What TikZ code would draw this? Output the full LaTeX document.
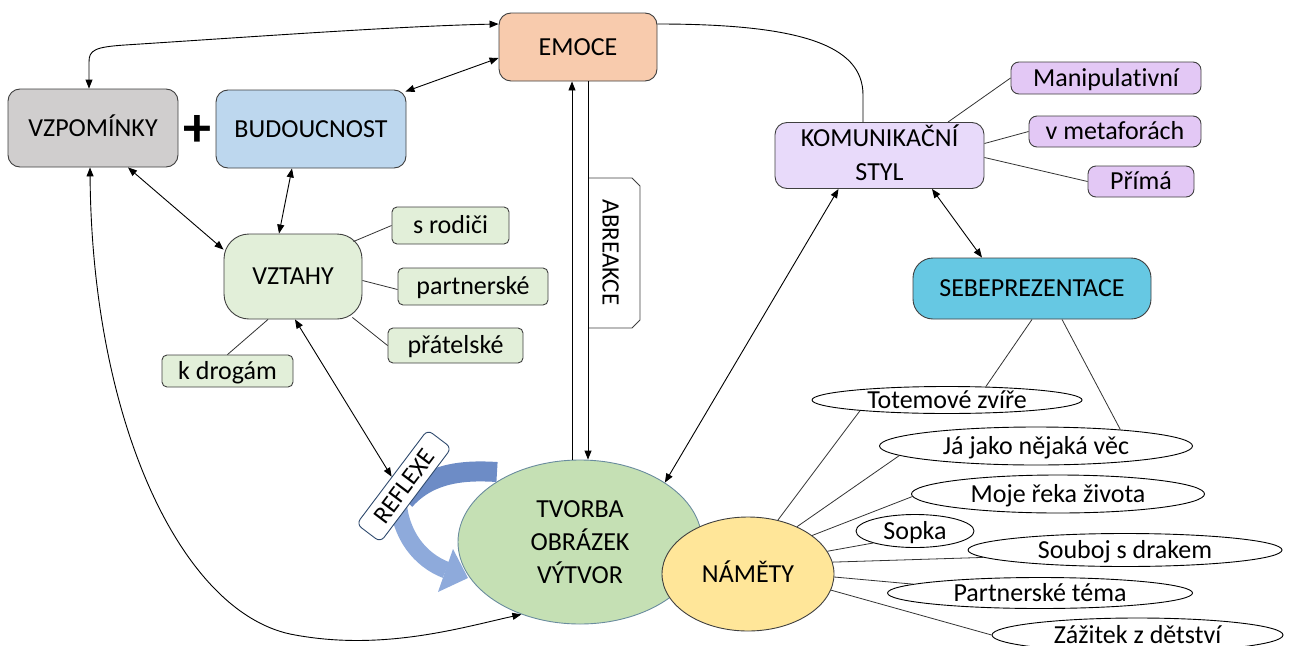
\documentclass[tikz,border=0pt]{standalone}
\usepackage{fontspec}
\setmainfont{Carlito}[Ligatures={NoCommon,NoContextual}]
\usetikzlibrary{arrows.meta,shapes.geometric,calc}
\definecolor{cgray}{HTML}{D0CECE}
\definecolor{cblue}{HTML}{BDD7EE}
\definecolor{cpeach}{HTML}{F8CBAD}
\definecolor{clav}{HTML}{E8DAFA}
\definecolor{cpur}{HTML}{E3C8F5}
\definecolor{ccyan}{HTML}{66C8E3}
\definecolor{cgreen}{HTML}{E2EFD9}
\definecolor{ctvo}{HTML}{C5E0B4}
\definecolor{ctvob}{HTML}{6A8C9E}
\definecolor{cyel}{HTML}{FFE699}
\definecolor{bordc}{HTML}{3F3F3F}
\definecolor{crefb}{HTML}{2F4A6E}
\definecolor{carrA}{HTML}{6D8CC6}
\definecolor{carrB}{HTML}{8EAADB}
\begin{document}
\begin{tikzpicture}[x=1pt,y=-1pt,
  font=\fontsize{26}{31}\selectfont,
  >={Triangle[length=9pt,width=7pt]},
  box/.style={draw=bordc, line width=0.9pt, rounded corners=12pt, inner sep=0pt, text height=16.7pt, text depth=0pt},
  boxm/.style={draw=bordc, line width=0.9pt, rounded corners=12pt, inner sep=0pt, align=center},
  sp/.style={box, rounded corners=8pt, fill=cpur},
  sg/.style={box, rounded corners=5pt, fill=cgreen},
  el/.style={ellipse, draw=black, line width=0.9pt, fill=white, inner sep=0pt, text height=16.7pt, text depth=0pt},
  con/.style={line width=0.9pt, draw=black},
  dbl/.style={con, <->},
  ln/.style={line width=0.8pt, draw=black!80}
]
\useasboundingbox (0,0) rectangle (1289,645);
\clip (0,0) rectangle (1289,645);

% blue circular arrow (drawn below REFLEXE)
\draw[line width=20pt, draw=carrA] (497,472) .. controls (465,470) and (430,472) .. (405,500);
\draw[line width=17pt, draw=carrB] (398,500) .. controls (400,535) and (420,560) .. (446,570);
\fill[carrB] (468,578) -- (453,549) -- (438,592) -- cycle;

% nodes
\node[box, fill=cgray, minimum width=170pt, minimum height=78pt] (vz) at (93,128) {VZPOMÍNKY};
\node[font=\fontsize{56}{60}\selectfont\bfseries, inner sep=0pt] (plus) at (197,131) {+};
\node[box, fill=cblue, minimum width=190pt, minimum height=78pt] (bud) at (311,129) {BUDOUCNOST};
\node[box, fill=cpeach, minimum width=158pt, minimum height=68pt] (emo) at (578,47) {EMOCE};
\node[boxm, fill=clav, minimum width=209pt, minimum height=66pt, font=\fontsize{26}{34}\selectfont] (kom) at (879.5,155.5) {KOMUNIKA\smash{Č}N\smash{Í}\\STYL};
\node[sp, minimum width=190pt, minimum height=32pt] (man) at (1106,78) {Manipulat\kern0pt ivní};
\node[sp, minimum width=172pt, minimum height=31pt] (met) at (1115,131.5) {v metaforách};
\node[sp, minimum width=106pt, minimum height=31pt] (pri) at (1141,181.5) {Přímá};
\node[box, rounded corners=20pt, fill=ccyan, minimum width=238pt, minimum height=61pt] (seb) at (1032,288.5) {SEBEPREZENTACE};
\node[box, rounded corners=25pt, fill=cgreen, minimum width=138pt, minimum height=85pt] (vzt) at (293,276.5) {VZTAHY};
\node[sg, minimum width=117pt, minimum height=37pt] (rod) at (450.5,225.5) {s rodiči};
\node[sg, minimum width=150pt, minimum height=37pt] (par) at (473,286.5) {partnerské};
\node[sg, minimum width=135pt, minimum height=35pt] (pra) at (455.5,345.5) {přátelské};
\node[sg, minimum width=131pt, minimum height=32pt] (dro) at (227.5,371) {k drogám};

\node[el, minimum width=270pt, minimum height=27pt] (tot) at (947,400) {Totemové zvíře};
\node[el, minimum width=313pt, minimum height=38pt] (ja) at (1036,446) {Já jako nějaká věc};
\node[el, minimum width=293pt, minimum height=38pt] (mre) at (1058,494) {Moje řeka života};
\node[el, minimum width=118pt, minimum height=33pt] (sop) at (915,531) {Sopka};
\node[el, minimum width=314pt, minimum height=33pt] (sou) at (1125,550) {Souboj s drakem};
\node[el, minimum width=305pt, minimum height=31pt] (pte) at (1040,593) {Partnerské téma};
\node[el, minimum width=291pt, minimum height=34pt] (zaz) at (1137.5,635) {Zážitek z dětství};

\node[ellipse, draw=ctvob, line width=0.9pt, fill=ctvo, minimum width=244pt, minimum height=164pt, inner sep=0pt, align=center, font=\fontsize{26}{33}\selectfont] (tvo) at (580,542) {TVORBA\\OBRÁZEK\\VÝTVOR};
\node[ellipse, draw=bordc, line width=0.9pt, fill=cyel, minimum width=172pt, minimum height=114pt, inner sep=0pt, text height=16.7pt, text depth=0pt] (nam) at (748,574) {NÁMĚTY};

\node[draw=crefb, line width=0.9pt, fill=white, rounded corners=6pt, rotate=53, minimum width=118pt, minimum height=30pt, inner sep=0pt, text height=16.7pt, text depth=0pt, font=\fontsize{25}{30}\selectfont] (refl) at (404,486) {REFLEXE};

% ABREAKCE tab
\draw[line width=0.9pt, draw=black!75, fill=white] (588,178) -- (632,178) -- (640,186) -- (640,320) -- (632,328) -- (588,328);
\node[rotate=-90, inner sep=0pt, text height=16.7pt, text depth=0pt, font=\fontsize{25}{30}\selectfont] (abr) at (611,252.5) {ABREAKCE};

% connectors with arrows
\draw[dbl] ([xshift=-4pt]vz.north) -- (89,62) .. controls (89,50) and (95,47) .. (125,45) .. controls (250,37) and (400,26) .. ([yshift=23pt]emo.west);
\draw[dbl] ([xshift=-1pt,yshift=-2pt]bud.north east) -- ([yshift=-11pt]emo.west);
\draw[dbl] ([xshift=35pt]vz.south) -- ([yshift=-16pt]vzt.north west);
\draw[dbl] ([xshift=-19pt]bud.south) -- ([xshift=-14pt]vzt.north);
\draw[dbl] ([xshift=2pt]vzt.south) -- (refl.north);
\draw[dbl] ([xshift=-3pt]vz.south) .. controls (92,420) and (180,610) .. (290,634) .. controls (380,652) and (460,628) .. (tvo.231);
\draw[con, ->] ([xshift=-8pt]tvo.north) -- ([xshift=-6pt]emo.south);
\draw[con, ->] ([xshift=10pt]emo.south) -- ([xshift=8pt]tvo.north);
\draw[dbl] ([xshift=-41pt]kom.south) -- (tvo.35);
\draw[dbl] ([xshift=52.5pt]kom.south) -- ([xshift=-50pt]seb.north);
\draw[con] ([yshift=23pt]emo.east) .. controls (800,24) and (863,45) .. (863,95) -- ([xshift=-16.5pt]kom.north);

% plain lines
\draw[ln] ([xshift=68.5pt]kom.north) -- (man.west);
\draw[ln] ([yshift=12pt]kom.east) -- (met.west);
\draw[ln] ([yshift=-2pt]kom.east) -- (pri.west);
\draw[ln] ([xshift=-9pt,yshift=-8pt]vzt.north east) -- (rod.west);
\draw[ln] ([yshift=-4pt]vzt.east) -- ([yshift=-3pt]par.west);
\draw[ln] ([xshift=-10pt,yshift=2pt]vzt.south east) -- (pra.west);
\draw[ln] ([xshift=-25pt]vzt.south) -- (dro.north);
\draw[ln] (seb.south) -- (tot.19);
\draw[ln] ([xshift=30pt]seb.south) -- (ja.11);
\draw[ln] (nam.61) -- (tot.187);
\draw[ln] (nam.44) -- (ja.184);
\draw[ln] (nam.31) -- (mre.181);
\draw[ln] (nam.16) -- (sop.196);
\draw[ln] (nam.8) -- (sou.183);
\draw[ln] (nam.-2) -- (pte.176);
\draw[ln] (nam.-11) -- (zaz.west);
\end{tikzpicture}
\end{document}
